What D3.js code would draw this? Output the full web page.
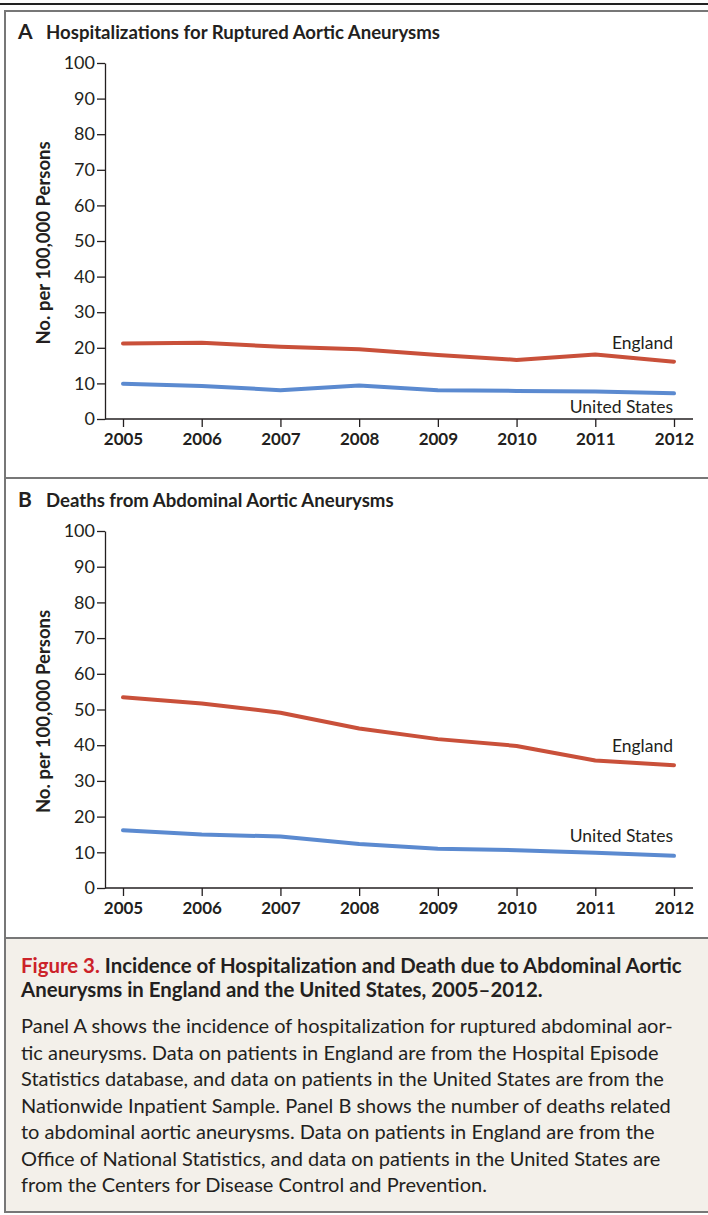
<!DOCTYPE html>
<html><head><meta charset="utf-8">
<script src="https://cdn.jsdelivr.net/npm/d3@7"></script>
<style>
html,body{margin:0;padding:0;background:#fff;}
svg{display:block;}
text{font-family:Lato,"Open Sans",sans-serif;}
</style></head>
<body>
<script>
const years = [2005, 2006, 2007, 2008, 2009, 2010, 2011, 2012];
const hospEngland = [21.2, 21.4, 20.3, 19.6, 18.0, 16.6, 18.1, 16.1];
const hospUS = [9.9, 9.3, 8.1, 9.4, 8.1, 7.9, 7.7, 7.2];
const deathEngland = [53.4, 51.7, 49.1, 44.7, 41.7, 39.8, 35.7, 34.4];
const deathUS = [16.2, 15.0, 14.4, 12.3, 11.0, 10.6, 9.9, 9.0];
const yTicks = [0, 10, 20, 30, 40, 50, 60, 70, 80, 90, 100];
const yLabel = "No. per 100,000 Persons";
const panelTitles = ["Hospitalizations for Ruptured Aortic Aneurysms", "Deaths from Abdominal Aortic Aneurysms"];
const panelLetters = ["A", "B"];
const seriesNames = ["England", "United States"];
const captionTitle = ["Incidence of Hospitalization and Death due to Abdominal Aortic", "Aneurysms in England and the United States, 2005\u20132012."];
const captionBody = [
  "Panel A shows the incidence of hospitalization for ruptured abdominal aor-",
  "tic aneurysms. Data on patients in England are from the Hospital Episode",
  "Statistics database, and data on patients in the United States are from the",
  "Nationwide Inpatient Sample. Panel B shows the number of deaths related",
  "to abdominal aortic aneurysms. Data on patients in England are from the",
  "Office of National Statistics, and data on patients in the United States are",
  "from the Centers for Disease Control and Prevention."
];

const W = 708, H = 1215;
const svg = d3.select("body").append("svg").attr("width", W).attr("height", H);

const RED = "#c9503a", BLUE = "#5b8ad0", INK = "#231f20", FRAME = "#777";

// top rules
svg.append("rect").attr("x", 0).attr("y", 3).attr("width", W).attr("height", 2).attr("fill", "#222");
// caption background
svg.append("rect").attr("x", 5).attr("y", 938).attr("width", W).attr("height", 274).attr("fill", "#f3f0ea");
// frame lines
svg.append("rect").attr("x", 4).attr("y", 10).attr("width", W).attr("height", 2).attr("fill", FRAME);
svg.append("rect").attr("x", 4).attr("y", 10).attr("width", 2).attr("height", 1203).attr("fill", FRAME);
svg.append("rect").attr("x", 4).attr("y", 477).attr("width", W).attr("height", 2).attr("fill", FRAME);
svg.append("rect").attr("x", 4).attr("y", 937).attr("width", W).attr("height", 2).attr("fill", FRAME);
svg.append("rect").attr("x", 4).attr("y", 1211).attr("width", W).attr("height", 2).attr("fill", FRAME);

const x = d3.scalePoint().domain(years).range([123, 674]);

const panels = [
  {top: 63, bottom: 419, titleY: 39, eng: hospEngland, us: hospUS, engLabelY: 349, usLabelY: 413},
  {top: 531, bottom: 888, titleY: 507, eng: deathEngland, us: deathUS, engLabelY: 752, usLabelY: 842}
];

panels.forEach((p, i) => {
  const g = svg.append("g");
  const y = d3.scaleLinear().domain([0, 100]).range([p.bottom, p.top]);

  g.append("text").attr("x", 18).attr("y", p.titleY).attr("font-size", 21).attr("font-weight", 700)
    .attr("fill", INK).text(panelLetters[i]);
  g.append("text").attr("x", 46).attr("y", p.titleY).attr("font-size", 18.6).attr("font-weight", 700)
    .attr("fill", INK).text(panelTitles[i]);

  // y axis
  const ya = g.append("g").attr("transform", "translate(105,0)")
    .call(d3.axisLeft(y).tickValues(yTicks).tickSize(8).tickPadding(2).tickSizeOuter(0));
  ya.select(".domain").attr("stroke", INK).attr("stroke-width", 1.3);
  ya.selectAll(".tick line").attr("stroke", INK).attr("stroke-width", 1.3);
  ya.selectAll(".tick text").attr("font-family", "Lato").attr("font-size", 18).attr("fill", INK)
    .attr("font-weight", 400);

  // x axis
  const xa = g.append("g").attr("transform", `translate(0,${p.bottom})`)
    .call(d3.axisBottom(x).tickSize(8).tickPadding(6).tickSizeOuter(0));
  xa.select(".domain").attr("d", `M105,0H693`).attr("stroke", INK).attr("stroke-width", 1.3);
  xa.selectAll(".tick line").attr("stroke", INK).attr("stroke-width", 1.3);
  xa.selectAll(".tick text").attr("font-family", "Lato").attr("font-size", 17).attr("font-weight", 700)
    .attr("fill", INK);

  // y label
  g.append("text").attr("transform", `translate(50,${(p.top + p.bottom) / 2 + 2}) rotate(-90)`)
    .attr("text-anchor", "middle").attr("font-size", 18.5).attr("font-weight", 700).attr("fill", INK)
    .text(yLabel);

  const line = d3.line().x((d, j) => x(years[j])).y(d => y(d)).curve(d3.curveLinear);
  g.append("path").datum(p.eng).attr("d", line).attr("fill", "none").attr("stroke", RED)
    .attr("stroke-width", 4).attr("stroke-linejoin", "round").attr("stroke-linecap", "round");
  g.append("path").datum(p.us).attr("d", line).attr("fill", "none").attr("stroke", BLUE)
    .attr("stroke-width", 4).attr("stroke-linejoin", "round").attr("stroke-linecap", "round");

  g.append("text").attr("x", 673).attr("y", p.engLabelY).attr("text-anchor", "end").attr("font-size", 17.5)
    .attr("fill", INK).text(seriesNames[0]);
  g.append("text").attr("x", 673).attr("y", p.usLabelY).attr("text-anchor", "end").attr("font-size", 17.5)
    .attr("fill", INK).text(seriesNames[1]);
});

// caption
const cap = svg.append("g");
const t1 = cap.append("text").attr("x", 21).attr("y", 973).attr("font-size", 20.4).attr("font-weight", 700).attr("fill", INK);
t1.append("tspan").attr("fill", "#cc2229").text("Figure 3. ");
t1.append("tspan").text(captionTitle[0]);
cap.append("text").attr("x", 21).attr("y", 997).attr("font-size", 20.4).attr("font-weight", 700).attr("fill", INK)
  .text(captionTitle[1]);
captionBody.forEach((s, k) => {
  cap.append("text").attr("x", 21).attr("y", 1033 + k * 26.5).attr("font-size", 20).attr("fill", INK).text(s);
});
</script>
</body></html>
